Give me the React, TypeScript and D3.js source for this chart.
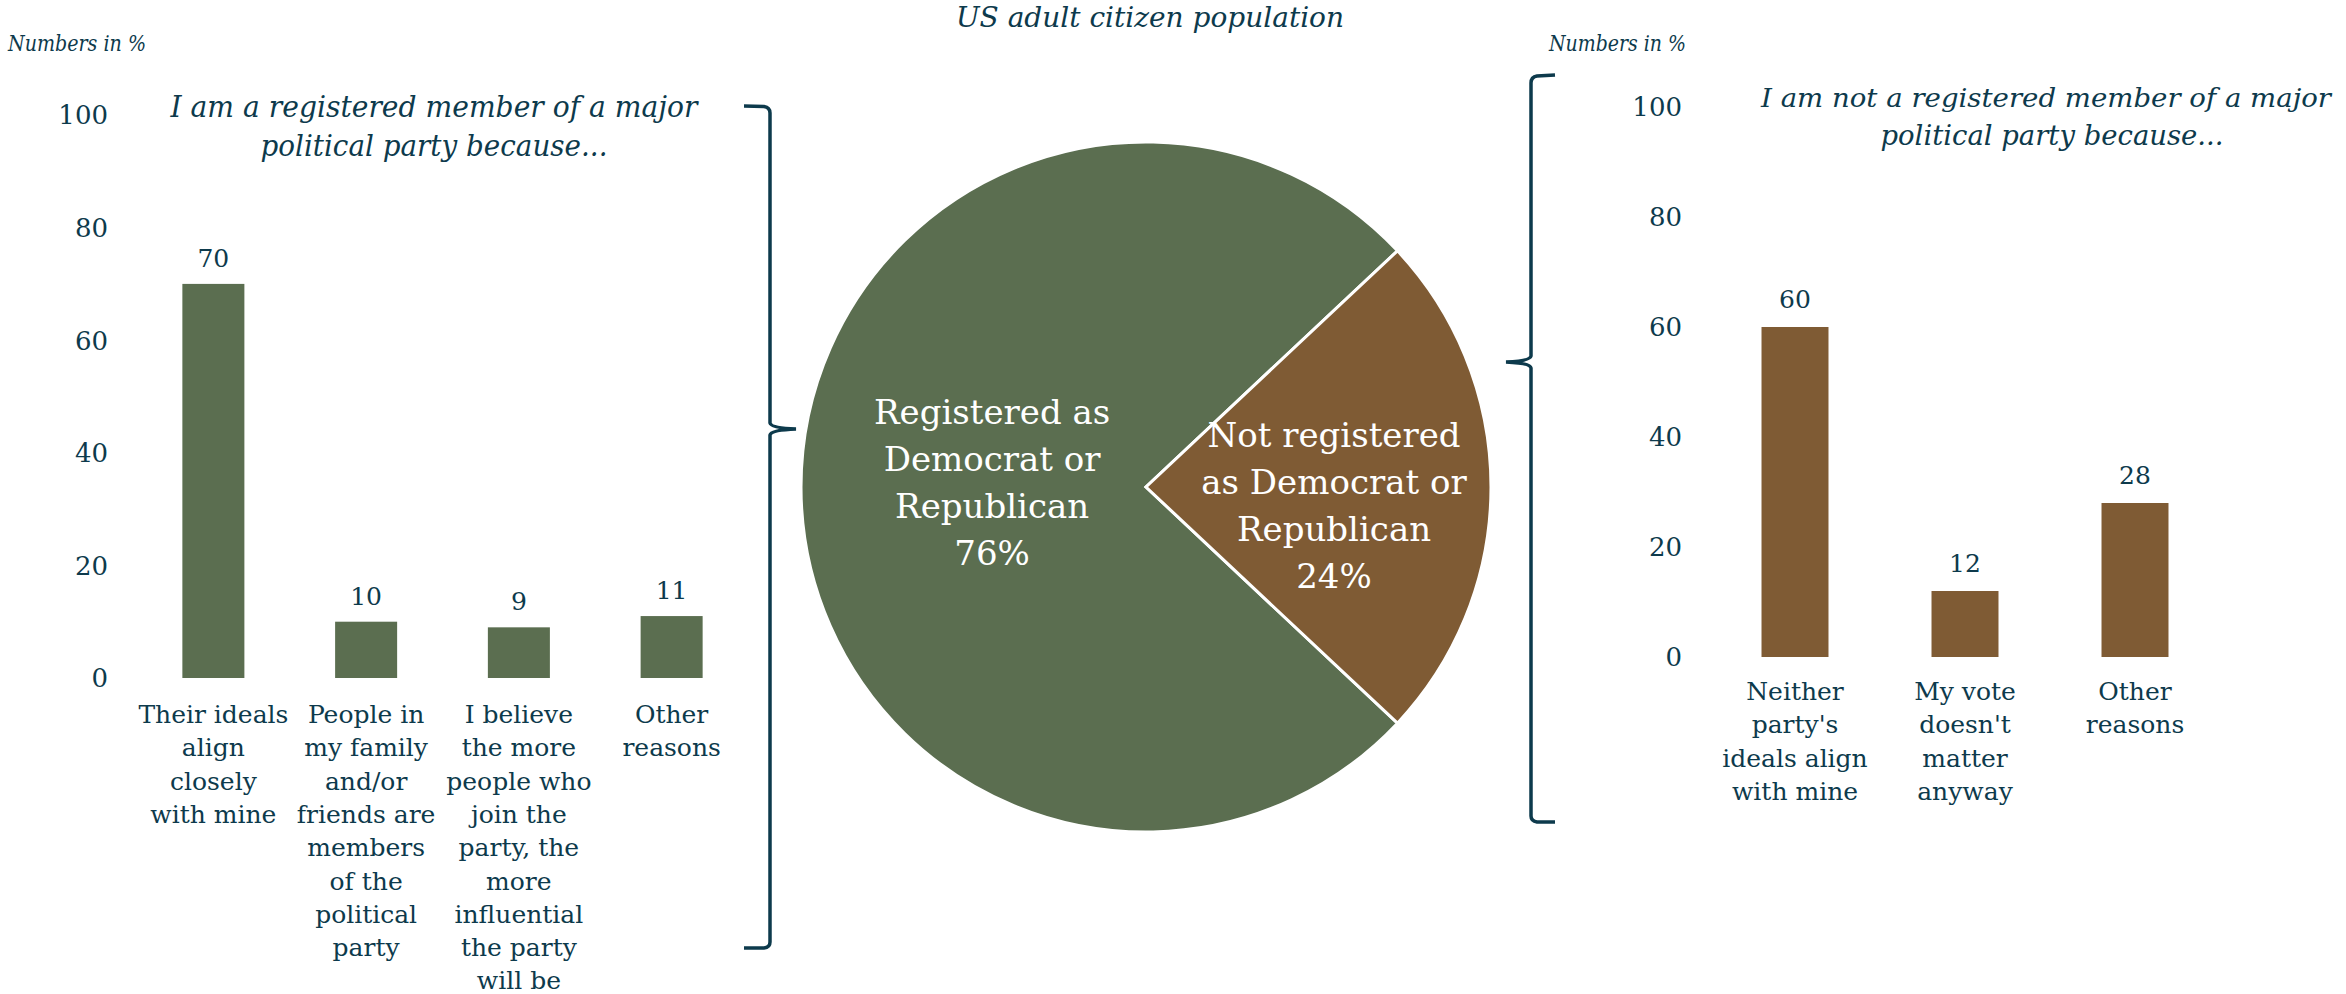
import React from "react";
import * as d3 from "d3";

const TEXT = "#0D3A4C";
const GREEN = "#5B6E50";
const BROWN = "#7F5B34";
const SERIF = "'DejaVu Serif', serif";

const yTicks = [0, 20, 40, 60, 80, 100];

const leftCats = ["ideals", "family", "influence", "other"];
const leftValues = [70, 10, 9, 11];
const leftLabels = [
  ["Their ideals", "align", "closely", "with mine"],
  ["People in", "my family", "and/or", "friends are", "members", "of the", "political", "party"],
  ["I believe", "the more", "people who", "join the", "party, the", "more", "influential", "the party", "will be"],
  ["Other", "reasons"],
];

const rightCats = ["neither", "vote", "other"];
const rightValues = [60, 12, 28];
const rightLabels = [
  ["Neither", "party's", "ideals align", "with mine"],
  ["My vote", "doesn't", "matter", "anyway"],
  ["Other", "reasons"],
];

const pieNames = ["Registered", "Not registered"];
const pieValues = [76, 24];
const pieLabels = [
  ["Registered as", "Democrat or", "Republican", "76%"],
  ["Not registered", "as Democrat or", "Republican", "24%"],
];

const leftTitle = ["I am a registered member of a major", "political party because..."];
const rightTitle = ["I am not a registered member of a major", "political party because..."];
const centerTitle = "US adult citizen population";
const unitNote = "Numbers in %";

const W = 2346;
const H = 994;

function Italic(props: { x: number; y: number; size: number; len: number; anchor?: string; children: string }) {
  return (
    <text
      x={props.x}
      y={props.y}
      fontSize={props.size}
      fontStyle="italic"
      fill={TEXT}
      textAnchor={props.anchor || "middle"}
      textLength={props.len}
      lengthAdjust="spacingAndGlyphs"
    >
      {props.children}
    </text>
  );
}

export default function App() {
  // left bar chart
  const yL = d3.scaleLinear().domain([0, 100]).range([678, 115]);
  const xL = d3.scaleBand<string>().domain(leftCats).range([137, 748]).paddingInner(0.594).paddingOuter(0.297);
  // right bar chart
  const yR = d3.scaleLinear().domain([0, 100]).range([657, 107]);
  const xR = d3.scaleBand<string>().domain(rightCats).range([1710, 2220]).paddingInner(0.606).paddingOuter(0.303);

  // pie
  const cx = 1146, cy = 487, r = 345;
  const brownShare = pieValues[1] / d3.sum(pieValues);
  const start = Math.PI / 2 + brownShare * Math.PI;
  const pie = d3.pie<number>().sort(null).startAngle(start).endAngle(start + 2 * Math.PI);
  const arcs = pie(pieValues);
  const arc = d3.arc<d3.PieArcDatum<number>>().innerRadius(0).outerRadius(r);
  const labelRadius = [0.446, 0.545];
  const labelDy = [-6, 17];
  const pieColors = [GREEN, BROWN];

  const lineH = 33.3;
  const pieLineH = 47;

  const leftBrace = "M744,106 L764,106.5 Q770,107.5 770,113 L770,423 Q771,428 796,429 Q771,430 770,435 L770,942 Q770,947.5 764,948 L744,948";
  const rightBrace = "M1555,75 L1537,76 Q1531,77 1531,83 L1531,356 Q1530,361 1506,362 Q1530,363 1531,368 L1531,816 Q1531,821 1537,822 L1555,822";

  return (
    <svg width={W} height={H} style={{ position: "absolute", left: 0, top: 0, background: "#fff" }} fontFamily={SERIF}>
      {/* top notes */}
      <Italic x={8} y={51} size={22} len={138} anchor="start">{unitNote}</Italic>
      <Italic x={1549} y={51} size={22} len={137} anchor="start">{unitNote}</Italic>
      <Italic x={1150} y={27} size={28} len={388}>{centerTitle}</Italic>

      {/* left title */}
      <Italic x={434} y={117} size={30} len={527}>{leftTitle[0]}</Italic>
      <Italic x={434} y={156} size={30} len={347}>{leftTitle[1]}</Italic>

      {/* right title */}
      <Italic x={2046} y={107} size={26.5} len={570}>{rightTitle[0]}</Italic>
      <Italic x={2052} y={145} size={28} len={343}>{rightTitle[1]}</Italic>

      {/* left axis */}
      {yTicks.map((t) => (
        <text key={"lt" + t} x={108} y={yL(t)} dy="0.36em" fontSize={26} fill={TEXT} textAnchor="end">{t}</text>
      ))}
      {leftCats.map((c, i) => (
        <g key={"lb" + c}>
          <rect x={xL(c)} y={yL(leftValues[i])} width={xL.bandwidth()} height={yL(0) - yL(leftValues[i])} fill={GREEN} />
          <text x={(xL(c) as number) + xL.bandwidth() / 2} y={yL(leftValues[i]) - 17} fontSize={25} fill={TEXT} textAnchor="middle">{leftValues[i]}</text>
          {leftLabels[i].map((ln, j) => (
            <text key={j} x={(xL(c) as number) + xL.bandwidth() / 2} y={yL(0) + 45 + j * lineH} fontSize={25} fill={TEXT} textAnchor="middle">{ln}</text>
          ))}
        </g>
      ))}

      {/* right axis */}
      {yTicks.map((t) => (
        <text key={"rt" + t} x={1682} y={yR(t)} dy="0.36em" fontSize={26} fill={TEXT} textAnchor="end">{t}</text>
      ))}
      {rightCats.map((c, i) => (
        <g key={"rb" + c}>
          <rect x={xR(c)} y={yR(rightValues[i])} width={xR.bandwidth()} height={yR(0) - yR(rightValues[i])} fill={BROWN} />
          <text x={(xR(c) as number) + xR.bandwidth() / 2} y={yR(rightValues[i]) - 19} fontSize={25} fill={TEXT} textAnchor="middle">{rightValues[i]}</text>
          {rightLabels[i].map((ln, j) => (
            <text key={j} x={(xR(c) as number) + xR.bandwidth() / 2} y={yR(0) + 43 + j * lineH} fontSize={25} fill={TEXT} textAnchor="middle">{ln}</text>
          ))}
        </g>
      ))}

      {/* pie */}
      <g transform={`translate(${cx},${cy})`}>
        {arcs.map((a, i) => (
          <path key={pieNames[i]} d={arc(a) as string} fill={pieColors[i]} stroke="#fff" strokeWidth={3} strokeLinejoin="miter" />
        ))}
        {arcs.map((a, i) => {
          const la = d3.arc<d3.PieArcDatum<number>>().innerRadius(r * labelRadius[i]).outerRadius(r * labelRadius[i]);
          const [lx, ly] = la.centroid(a);
          const n = pieLabels[i].length;
          return (
            <g key={"pl" + i}>
              {pieLabels[i].map((ln, j) => (
                <text key={j} x={lx} y={ly + (j - (n - 1) / 2) * pieLineH + 13 + labelDy[i]} fontSize={34} fill="#fff" textAnchor="middle">{ln}</text>
              ))}
            </g>
          );
        })}
      </g>

      {/* braces */}
      <path d={leftBrace} fill="none" stroke={TEXT} strokeWidth={3.5} />
      <path d={rightBrace} fill="none" stroke={TEXT} strokeWidth={3.5} />
    </svg>
  );
}
